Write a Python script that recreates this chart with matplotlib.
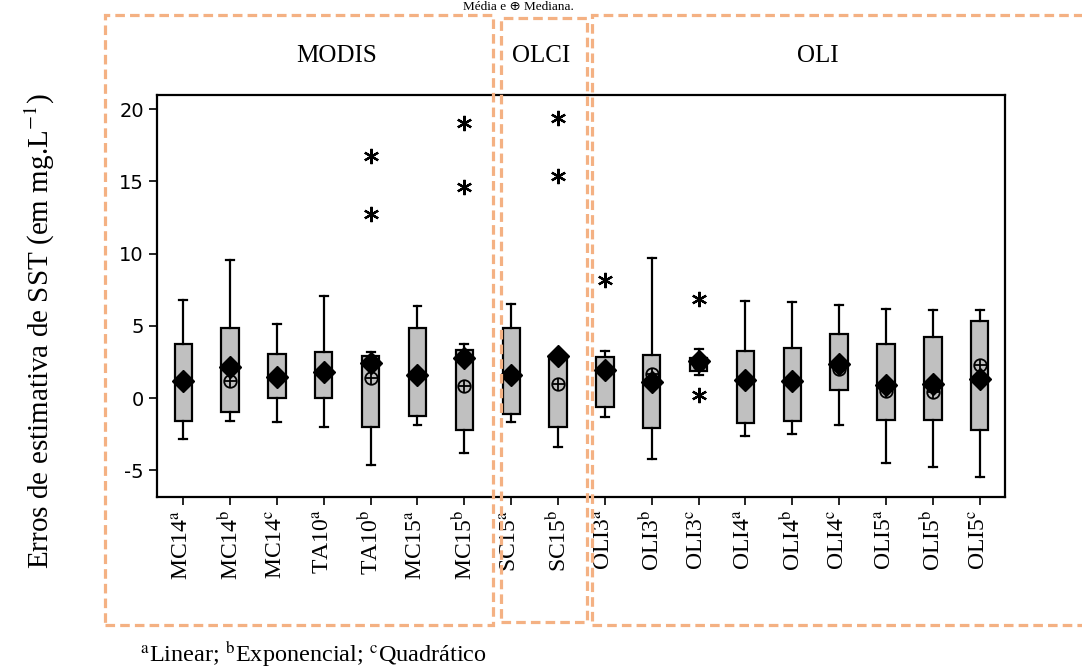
import matplotlib
matplotlib.use('Agg')
import matplotlib.pyplot as plt
from matplotlib.patches import Rectangle

plt.rcParams['mathtext.fontset'] = 'stix'

# ---------------- data ----------------
names = ['MC14', 'MC14', 'MC14', 'TA10', 'TA10', 'MC15', 'MC15', 'SC15', 'SC15',
         'OLI3', 'OLI3', 'OLI3', 'OLI4', 'OLI4', 'OLI4', 'OLI5', 'OLI5', 'OLI5']
sups = ['a', 'b', 'c', 'a', 'b', 'a', 'b', 'a', 'b',
        'a', 'b', 'c', 'a', 'b', 'c', 'a', 'b', 'c']
q3 = [3.72, 4.87, 3.03, 3.15, 2.92, 4.87, 3.31, 4.83, 2.92,
      2.87, 3.01, 2.74, 3.26, 3.43, 4.46, 3.72, 4.25, 5.31]
q1 = [-1.61, -0.99, 0.0, 0.0, -1.98, -1.22, -2.21, -1.10, -1.98,
      -0.64, -2.09, 1.89, -1.75, -1.61, 0.57, -1.49, -1.49, -2.21]
whis_hi = [6.76, 9.54, 5.15, 7.06, 3.20, 6.34, 3.75, 6.48, 2.95,
           3.26, 9.70, 3.38, 6.69, 6.64, 6.44, 6.14, 6.07, 6.07]
whis_lo = [-2.83, -1.61, -1.63, -1.98, -4.62, -1.86, -3.79, -1.63, -3.36,
           -1.33, -4.21, 1.61, -2.60, -2.48, -1.84, -4.48, -4.74, -5.47]
means = [1.20, 2.18, 1.47, 1.82, 2.41, 1.61, 2.74, 1.61, 2.92,
         1.93, 1.08, 2.57, 1.24, 1.20, 2.34, 0.90, 0.97, 1.31]
medians = [1.20, 1.20, 1.47, 1.82, 1.40, 1.61, 0.85, 1.61, 0.97,
           1.93, 1.66, 2.34, 1.24, 1.20, 2.00, 0.51, 0.44, 2.28]
outliers = [[], [], [], [], [16.76, 12.74], [], [19.06, 14.60], [], [19.36, 15.38],
            [8.14], [], [6.83, 0.21], [], [], [], [], [], []]
groups = ['MODIS', 'OLCI', 'OLI']
y_ticks = [-5, 0, 5, 10, 15, 20]

# ---------------- figure ----------------
fig = plt.figure(figsize=(10.82, 6.69), dpi=100)
W, H = 1082, 669
ax = fig.add_axes([157 / W, 1 - 497 / H, (1005 - 157) / W, (497 - 95) / H])

positions = list(range(len(names)))
stats = []
for i in positions:
    stats.append(dict(med=medians[i], q1=q1[i], q3=q3[i],
                      whislo=whis_lo[i], whishi=whis_hi[i],
                      fliers=outliers[i], mean=means[i]))

ax.bxp(stats, positions=positions, widths=0.37, capwidths=0.17,
       patch_artist=True, showmeans=False, showfliers=True,
       boxprops=dict(facecolor='#c0c0c0', edgecolor='black', linewidth=1.6),
       whiskerprops=dict(color='black', linewidth=1.6),
       capprops=dict(color='black', linewidth=1.6),
       medianprops=dict(linewidth=0),
       flierprops=dict(marker=(6, 2, 0), markersize=11, markeredgecolor='black',
                       markerfacecolor='black', markeredgewidth=1.6, linestyle='none'))

# median symbol (circle with plus)
ax.plot(positions, medians, ls='none', marker='o', mfc='none', mec='black',
        ms=9, mew=1.3, zorder=4)
ax.plot(positions, medians, ls='none', marker='+', color='black',
        ms=9, mew=1.3, zorder=4)
# mean symbol (diamond)
ax.plot(positions, means, ls='none', marker='D', color='black', ms=11, zorder=5)

ax.set_xlim(-0.56, 17.54)
ax.set_ylim(-6.85, 20.97)
ax.set_yticks(y_ticks)
ax.set_yticklabels([str(v) for v in y_ticks], fontsize=14, family='DejaVu Sans')
ax.set_xticks(positions)
ax.set_xticklabels([f'{n}$^{{\\mathrm{{{s}}}}}$' for n, s in zip(names, sups)],
                   rotation=90, fontsize=17, family='Liberation Serif')
ax.tick_params(axis='both', direction='out', length=6, width=1.2, colors='black')
ax.tick_params(axis='x', pad=3)
for sp in ax.spines.values():
    sp.set_linewidth(1.6)

# y label
fig.text(40 / W, 1 - 331 / H, 'Erros de estimativa de SST (em mg.L$^{-1}$)',
         rotation=90, ha='center', va='center', fontsize=21, family='Liberation Serif')

# group headers
hdr_x = [337, 541, 818]
for g, x in zip(groups, hdr_x):
    fig.text(x / W, 1 - 56 / H, g, ha='center', va='center', fontsize=18,
             family='Liberation Serif')

# legend text at the top edge
fig.text(518 / W, 1 - 1 / H, 'Média e ⊕ Mediana.', ha='center', va='top',
         fontsize=9.5, family=['Liberation Serif', 'DejaVu Sans'])

# footnote
fig.text(140 / W, 1 - 654 / H,
         '$^{\\mathrm{a}}$Linear; $^{\\mathrm{b}}$Exponencial; $^{\\mathrm{c}}$Quadrático',
         ha='left', va='center', fontsize=17.5, family='Liberation Serif')

# dashed orange group boxes
orange = '#F4B183'
rects = [(105, 15, 493, 625), (501, 18, 587, 622), (592, 15, 1100, 625)]
for x0, y0, x1, y1 in rects:
    fig.add_artist(Rectangle((x0 / W, 1 - y1 / H), (x1 - x0) / W, (y1 - y0) / H,
                             transform=fig.transFigure, fill=False, edgecolor=orange,
                             linewidth=2.3, linestyle=(0, (3, 1.6)), clip_on=False))

fig.savefig('out.png', dpi=100)
